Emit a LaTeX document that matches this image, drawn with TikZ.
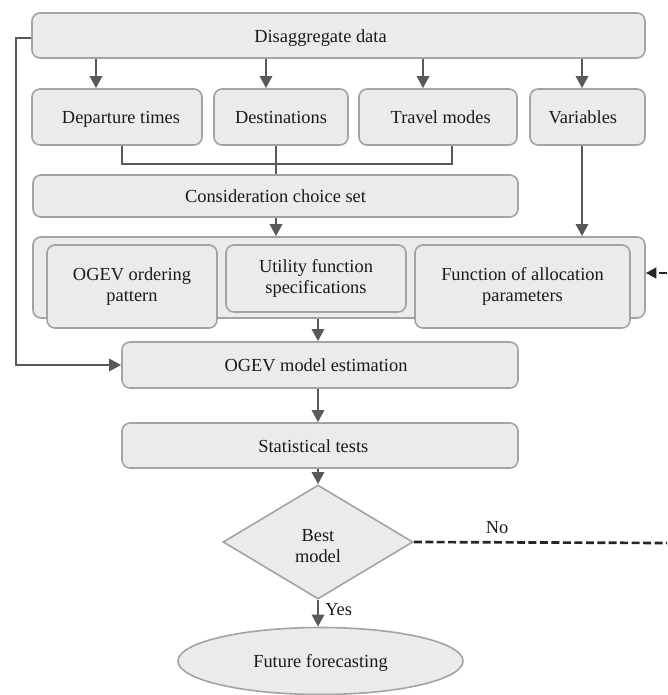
\documentclass[tikz,border=0pt]{standalone}
\usepackage{fontspec}
\setmainfont{Liberation Serif}
\usetikzlibrary{arrows.meta,shapes.geometric}
\definecolor{boxfill}{HTML}{EBEBEB}
\definecolor{boxdraw}{HTML}{A3A3A3}
\definecolor{arrcol}{HTML}{595959}
\definecolor{txtcol}{HTML}{1A1A1A}
\newcommand{\lowstrut}{\rule[-3.6pt]{0pt}{17.6pt}}
\tikzset{
  bx/.style 2 args={draw=boxdraw, fill=boxfill, line width=1.2pt, rounded corners=6pt,
    minimum width=#1*0.75pt, minimum height=#2*0.75pt, inner sep=0pt, align=center,
    text=txtcol},
  one/.style={execute at begin node=\lowstrut},
  conn/.style={draw=arrcol, line width=2.1pt},
  arr/.style={conn, -{Triangle[length=9pt,width=9pt]}},
  dashln/.style={draw=black!85, line width=2pt, dash pattern=on 6pt off 2.6pt},
  dasharr/.style={dashln, -{Triangle[length=8pt,width=8pt]}},
  lbl/.style={text=txtcol, inner sep=0pt}
}
\begin{document}
\begin{tikzpicture}[x=0.75pt,y=-0.75pt,font=\fontsize{13.8}{16}\selectfont]
\useasboundingbox (0,0) rectangle (667,695);
% top
\node[bx={613}{45}, label={[lbl,xshift=-18*0.75pt]center:\lowstrut Disaggregate data}] (dis) at (338.5,35.5) {};
\node[bx={170}{56}, one] (dep) at (117,117) {\hspace*{6pt}Departure times};
\node[bx={134}{56}, one] (des) at (281,117) {Destinations};
\node[bx={158}{56}, one] (tra) at (438,117) {\hspace*{4pt}Travel modes};
\node[bx={115}{56}, one] (var) at (587.5,117) {Variables\hspace*{7pt}};
\node[bx={485}{42}, one] (con) at (275.5,196) {Consideration choice set};
% container
\node[bx={612}{81}] (cont) at (339,277.5) {};
\node[bx={170}{83}] (ord) at (132,286.5) {OGEV ordering\\pattern};
\node[bx={180}{67}] (uti) at (316,278.5) {Utility function\\specifications};
\node[bx={215}{83}] (fun) at (522.5,286.5) {Function of allocation\\parameters};
% lower
\node[bx={396}{46}, one] (est) at (320,365) {OGEV model estimation\hspace*{6pt}};
\node[bx={396}{45}, one] (sta) at (320,445.5) {Statistical tests\hspace*{10pt}};
\node[draw=boxdraw, fill=boxfill, line width=1.2pt, shape=diamond, inner sep=0pt,
      minimum width=190*0.75pt, minimum height=114*0.75pt,
      label={[lbl,align=center,yshift=-4*0.75pt]center:Best\\model}] (dia) at (318,542) {};
\node[draw=boxdraw, fill=boxfill, line width=1.2pt, shape=ellipse, inner sep=0pt,
      minimum width=285*0.75pt, minimum height=67*0.75pt, text=txtcol, one] (fut) at (320.5,661) {Future forecasting};
% column coordinates
\coordinate (c1) at (96,0);
\coordinate (c2) at (266,0);
\coordinate (c3) at (423,0);
\coordinate (c4) at (582,0);
\coordinate (k1) at (122,0);
\coordinate (k2) at (276,0);
\coordinate (jr) at (452,164);
\coordinate (lc) at (16,38);
\coordinate (m) at (318,0);
\coordinate (r1) at (667,543);
\coordinate (r2) at (667,273);
% arrows from disaggregate
\draw[arr] (dis.south -| c1) -- (dep.north -| c1);
\draw[arr] (dis.south -| c2) -- (des.north -| c2);
\draw[arr] (dis.south -| c3) -- (tra.north -| c3);
\draw[arr] (dis.south -| c4) -- (var.north -| c4);
% merge into consideration
\draw[conn] (dep.south -| k1) |- (jr) -- (tra.south -| jr);
\draw[conn] (des.south -| k2) -- (con.north -| k2);
\draw[arr] (con.south -| k2) -- (cont.north -| k2);
\draw[arr] (var.south -| c4) -- (cont.north -| c4);
% left feedback
\draw[arr] (dis.west |- lc) -- (lc) |- (est.west);
% down the chain
\draw[arr] (cont.south -| m) -- (est.north -| m);
\draw[arr] (est.south -| m) -- (sta.north -| m);
\draw[arr] (sta.south -| m) -- (dia.north);
\draw[arr] (dia.south) -- (fut.north -| dia.south);
\node[lbl, anchor=west] (yes) at (325,610) {Yes};
% No loop
\draw[dashln] (dia.east) -- (r1);
\node[lbl] (no) at (497,528) {No};
\draw[dasharr] (r2) -- (cont.east |- r2);
\end{tikzpicture}
\end{document}
